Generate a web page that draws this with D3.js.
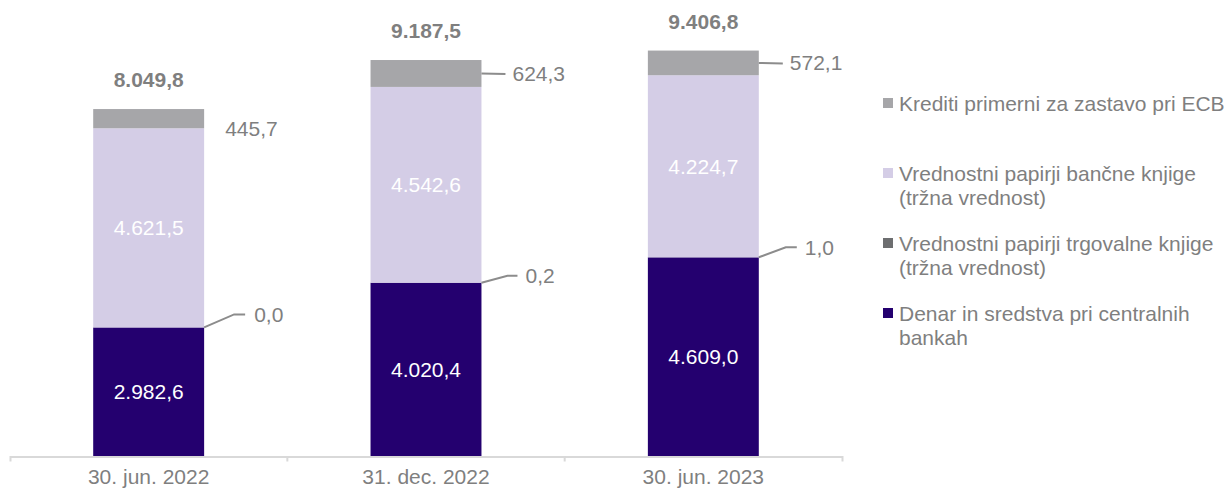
<!DOCTYPE html>
<html>
<head>
<meta charset="utf-8">
<script src="https://cdn.jsdelivr.net/npm/d3@7"></script>
<style>
  html, body { margin: 0; padding: 0; background: #fff; }
  svg { display: block; font-family: "Liberation Sans", Arial, sans-serif; }
</style>
</head>
<body>
<svg id="chart" width="1227" height="490"></svg>
<script>
// ---- data ----
const categories = ["30. jun. 2022", "31. dec. 2022", "30. jun. 2023"];
const denar = [2982.6, 4020.4, 4609.0];            // Denar in sredstva pri centralnih bankah
const trgovalne = [0.0, 0.2, 1.0];                  // Vrednostni papirji trgovalne knjige
const bancne = [4621.5, 4542.6, 4224.7];            // Vrednostni papirji bančne knjige
const krediti = [445.7, 624.3, 572.1];              // Krediti primerni za zastavo pri ECB
const totals = [8049.8, 9187.5, 9406.8];
const legendLines = [
  ["Krediti primerni za zastavo pri ECB"],
  ["Vrednostni papirji bančne knjige", "(tržna vrednost)"],
  ["Vrednostni papirji trgovalne knjige", "(tržna vrednost)"],
  ["Denar in sredstva pri centralnih", "bankah"]
];

// ---- styles ----
const colors = ["#24006f", "#6d6e70", "#d4cde6", "#a6a6a9"];
const legendColors = ["#a6a6a9", "#d4cde6", "#6d6e70", "#24006f"];
const textGray = "#7f7f7f";
const FS = 21;

const svg = d3.select("#chart");

const x = d3.scaleBand().domain(categories).range([10, 842]).paddingInner(0.6).paddingOuter(0.3);
const y = d3.scaleLinear().domain([0, 10000]).range([456, 25]);

const table = categories.map((c, i) => ({
  cat: c, denar: denar[i], trgovalne: trgovalne[i], bancne: bancne[i], krediti: krediti[i]
}));
const keys = ["denar", "trgovalne", "bancne", "krediti"];
const stacked = d3.stack().keys(keys)(table);

// bars
stacked.forEach((layer, li) => {
  svg.append("g").selectAll("rect").data(layer).join("rect")
    .attr("x", d => x(d.data.cat))
    .attr("width", x.bandwidth())
    .attr("y", d => y(d[1]))
    .attr("height", d => Math.max(0, y(d[0]) - y(d[1])))
    .attr("fill", colors[li]);
});

const fmt = v => {
  const s = v.toFixed(1);
  let [int, dec] = s.split(".");
  int = int.replace(/\B(?=(\d{3})+(?!\d))/g, ".");
  return int + "," + dec;
};

// axis
const axis = d3.axisBottom(x).tickSize(0).tickSizeOuter(5).tickFormat(() => "");
const ag = svg.append("g").attr("transform", "translate(0,456.5)").call(axis);
ag.select(".domain").attr("stroke", "#d9d9d9").attr("stroke-width", 2);
const step = x.step();
categories.slice(1).forEach(c => {
  const bx = x(c) - step * x.paddingInner() / 2;
  ag.append("line").attr("x1", bx).attr("x2", bx).attr("y1", 0).attr("y2", 5)
    .attr("stroke", "#d9d9d9").attr("stroke-width", 2);
});
svg.append("g").selectAll("text").data(categories).join("text")
  .attr("x", d => x(d) + x.bandwidth() / 2)
  .attr("y", 484)
  .attr("text-anchor", "middle")
  .attr("font-size", FS)
  .attr("fill", textGray)
  .text(d => d);

// inside labels (denar, bancne)
[stacked[0], stacked[2]].forEach(layer => {
  svg.append("g").selectAll("text").data(layer).join("text")
    .attr("x", d => x(d.data.cat) + x.bandwidth() / 2)
    .attr("y", d => (y(d[0]) + y(d[1])) / 2 + 7.5)
    .attr("text-anchor", "middle")
    .attr("font-size", FS)
    .attr("fill", "#ffffff")
    .text(d => fmt(d[1] - d[0]));
});

// totals
svg.append("g").selectAll("text").data(categories).join("text")
  .attr("x", d => x(d) + x.bandwidth() / 2)
  .attr("y", (d, i) => y(totals[i]) - 22)
  .attr("text-anchor", "middle")
  .attr("font-size", FS)
  .attr("font-weight", "bold")
  .attr("fill", textGray)
  .text((d, i) => fmt(totals[i]));

// callout label offsets (layout only)
const kreditiCallout = [
  { line: false, dy: 10, tx: 21 },
  { line: true, dy: 0, tx: 31 },
  { line: true, dy: 0, tx: 31 }
];
const trgCallout = [
  { ex: 30, ey: -13, hx: 41, tx: 50 },
  { ex: 26, ey: -7, hx: 36, tx: 44 },
  { ex: 27, ey: -10, hx: 38, tx: 46 }
];

const lg = svg.append("g");
stacked[3].forEach((d, i) => {
  const bx = x(d.data.cat) + x.bandwidth();
  const cy = (y(d[0]) + y(d[1])) / 2;
  const c = kreditiCallout[i];
  if (c.line) {
    lg.append("line").attr("x1", bx).attr("y1", cy).attr("x2", bx + 24).attr("y2", cy + 0.5)
      .attr("stroke", "#8c8c8c").attr("stroke-width", 2);
  }
  lg.append("text").attr("x", bx + c.tx).attr("y", cy + c.dy + 7.5)
    .attr("font-size", FS).attr("fill", textGray).text(fmt(krediti[i]));
});
stacked[1].forEach((d, i) => {
  const bx = x(d.data.cat) + x.bandwidth();
  const ay = y(d[1]);
  const c = trgCallout[i];
  lg.append("path")
    .attr("d", `M${bx},${ay}L${bx + c.ex},${ay + c.ey}L${bx + c.hx},${ay + c.ey}`)
    .attr("fill", "none").attr("stroke", "#8c8c8c").attr("stroke-width", 2);
  lg.append("text").attr("x", bx + c.tx).attr("y", ay + c.ey + 7.5)
    .attr("font-size", FS).attr("fill", textGray).text(fmt(trgovalne[i]));
});

// legend
const legendY = [103, 173, 243, 313];
const leg = svg.append("g");
legendLines.forEach((lines, i) => {
  leg.append("rect").attr("x", 883).attr("y", legendY[i] - 5).attr("width", 10).attr("height", 10)
    .attr("fill", legendColors[i]);
  lines.forEach((t, j) => {
    leg.append("text").attr("x", 899).attr("y", legendY[i] + 7.5 + j * 24)
      .attr("font-size", FS).attr("fill", textGray).text(t);
  });
});
</script>
</body>
</html>
